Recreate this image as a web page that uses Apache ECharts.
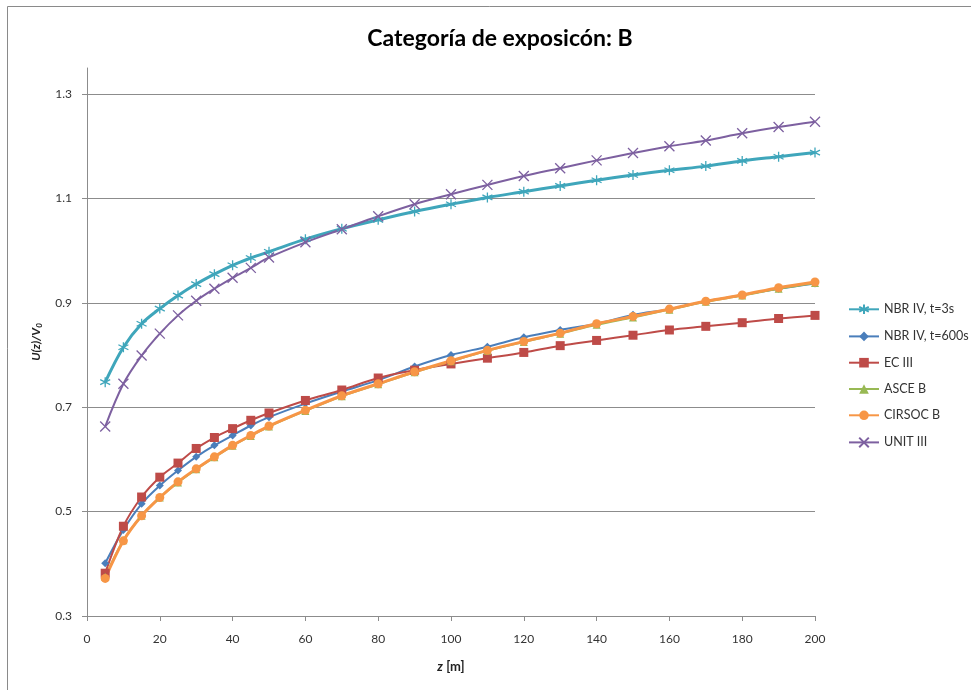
<!DOCTYPE html>
<html>
<head>
<meta charset="utf-8">
<script src="https://cdn.jsdelivr.net/npm/echarts@6/dist/echarts.min.js"></script>
<style>
  html, body { margin: 0; padding: 0; background: #fff; }
  #chart { width: 971px; height: 690px; }
</style>
</head>
<body>
<div id="chart"></div>
<script>
// altura z [m]
const heights = [5, 10, 15, 20, 25, 30, 35, 40, 45, 50, 60, 70, 80, 90, 100, 110, 120, 130, 140, 150, 160, 170, 180, 190, 200];

// U(z)/V0 por norma
const nbr3s   = [0.748, 0.815, 0.860, 0.889, 0.914, 0.936, 0.955, 0.972, 0.986, 0.998, 1.022, 1.042, 1.059, 1.075, 1.089, 1.102, 1.113, 1.124, 1.135, 1.145, 1.154, 1.162, 1.172, 1.180, 1.188];
const nbr600s = [0.401, 0.465, 0.515, 0.550, 0.579, 0.605, 0.627, 0.646, 0.665, 0.681, 0.707, 0.730, 0.752, 0.778, 0.800, 0.816, 0.834, 0.848, 0.860, 0.877, 0.888, 0.903, 0.915, 0.927, 0.937];
const ec3     = [0.382, 0.472, 0.528, 0.566, 0.593, 0.621, 0.642, 0.659, 0.675, 0.689, 0.713, 0.733, 0.756, 0.771, 0.783, 0.794, 0.805, 0.818, 0.828, 0.838, 0.848, 0.855, 0.862, 0.870, 0.876];
const asceB   = [0.375, 0.445, 0.492, 0.527, 0.556, 0.581, 0.604, 0.626, 0.645, 0.663, 0.693, 0.721, 0.744, 0.767, 0.788, 0.808, 0.825, 0.841, 0.858, 0.872, 0.887, 0.902, 0.914, 0.927, 0.938];
const cirsocB = [0.372, 0.444, 0.492, 0.527, 0.557, 0.582, 0.605, 0.627, 0.646, 0.664, 0.694, 0.722, 0.745, 0.768, 0.789, 0.809, 0.826, 0.842, 0.860, 0.874, 0.888, 0.903, 0.915, 0.929, 0.940];
const unit3   = [0.663, 0.745, 0.799, 0.841, 0.876, 0.904, 0.927, 0.948, 0.967, 0.987, 1.016, 1.041, 1.066, 1.089, 1.108, 1.126, 1.143, 1.158, 1.173, 1.187, 1.200, 1.211, 1.225, 1.237, 1.247];

// marcas del eje y
const yTicks = [0.3, 0.5, 0.7, 0.9, 1.1, 1.3];

const font = 'Lato, "Open Sans", sans-serif';
const gridGray = '#8c8c8c';

const asterisk = 'path://M5 0L5 10M0.7 2.5L9.3 7.5M0.7 7.5L9.3 2.5';
const cross = 'path://M0 0L10 10M10 0L0 10';

function pts(vals) {
  return heights.map((h, i) => [h, vals[i]]);
}

function lineSeries(name, vals, color, symbol, size, width, strokeOnly) {
  return {
    name: name,
    type: 'line',
    data: pts(vals),
    smooth: 0.35,
    symbol: symbol,
    symbolSize: size,
    showAllSymbol: true,
    lineStyle: { color: color, width: width },
    itemStyle: strokeOnly
      ? { color: 'none', borderColor: color, borderWidth: 1.3 }
      : { color: color, borderColor: color, borderWidth: 0 },
    emphasis: { disabled: true }
  };
}

const chart = echarts.init(document.getElementById('chart'));

chart.setOption({
  backgroundColor: '#fff',
  animation: false,
  title: {
    text: 'Categoría de exposicón: B',
    left: 495,
    textAlign: 'center',
    top: 22,
    textStyle: { fontFamily: font, fontSize: 23, fontWeight: 'bold', color: '#000' }
  },
  graphic: [{
    type: 'rect',
    silent: true,
    shape: { x: 7.5, y: 6.5, width: 1000, height: 800 },
    style: { fill: 'none', stroke: '#8a8a8a', lineWidth: 1 }
  }],
  legend: {
    orient: 'vertical',
    left: 843,
    top: 297,
    itemWidth: 30,
    itemHeight: 12,
    itemGap: 13.3,
    textStyle: { fontFamily: font, fontSize: 12.5, color: '#333' },
    data: ['NBR IV, t=3s', 'NBR IV, t=600s', 'EC III', 'ASCE B', 'CIRSOC B', 'UNIT III']
  },
  grid: { left: 87, right: 156, top: 68, bottom: 74 },
  xAxis: {
    type: 'value',
    min: 0,
    max: 200,
    interval: 20,
    name: '{i|z} {n|[m]}',
    nameLocation: 'middle',
    nameGap: 44,
    nameTextStyle: {
      rich: {
        i: { fontFamily: font, fontSize: 13, fontWeight: 'bold', fontStyle: 'italic', color: '#222' },
        n: { fontFamily: font, fontSize: 13, fontWeight: 'bold', color: '#222' }
      }
    },
    axisLine: { show: true, lineStyle: { color: gridGray, width: 1 } },
    axisTick: { show: true, inside: false, length: 5, lineStyle: { color: gridGray } },
    axisLabel: { margin: 17, fontFamily: font, fontSize: 12, color: '#333' },
    splitLine: { show: false }
  },
  yAxis: {
    type: 'value',
    min: 0.3,
    max: 1.35,
    name: '{i|U(z)/V}{s|0}',
    nameLocation: 'middle',
    nameRotate: 90,
    nameGap: 44,
    nameTextStyle: {
      rich: {
        i: { fontFamily: font, fontSize: 12, fontWeight: 'bold', fontStyle: 'italic', color: '#222' },
        s: { fontFamily: font, fontSize: 8, fontWeight: 'bold', fontStyle: 'italic', color: '#222', verticalAlign: 'bottom', padding: [6, 0, 0, 0] }
      }
    },
    axisLine: { show: true, lineStyle: { color: gridGray, width: 1 } },
    axisTick: { show: true, inside: false, length: 5, customValues: yTicks, lineStyle: { color: gridGray } },
    axisLabel: {
      margin: 15,
      customValues: yTicks,
      fontFamily: font,
      fontSize: 12,
      color: '#333',
      formatter: v => v.toFixed(1)
    },
    splitLine: { show: true, lineStyle: { color: gridGray, width: 1 } }
  },
  series: [
    lineSeries('NBR IV, t=3s', nbr3s, '#3fa6bb', asterisk, 10, 3, true),
    lineSeries('NBR IV, t=600s', nbr600s, '#4a7ebb', 'diamond', 8, 2, false),
    lineSeries('EC III', ec3, '#be4b48', 'rect', 9, 2, false),
    lineSeries('ASCE B', asceB, '#98b954', 'triangle', 8, 2, false),
    lineSeries('CIRSOC B', cirsocB, '#f79646', 'circle', 9, 3, false),
    lineSeries('UNIT III', unit3, '#7d60a0', cross, 10, 2, true)
  ]
});
</script>
</body>
</html>
